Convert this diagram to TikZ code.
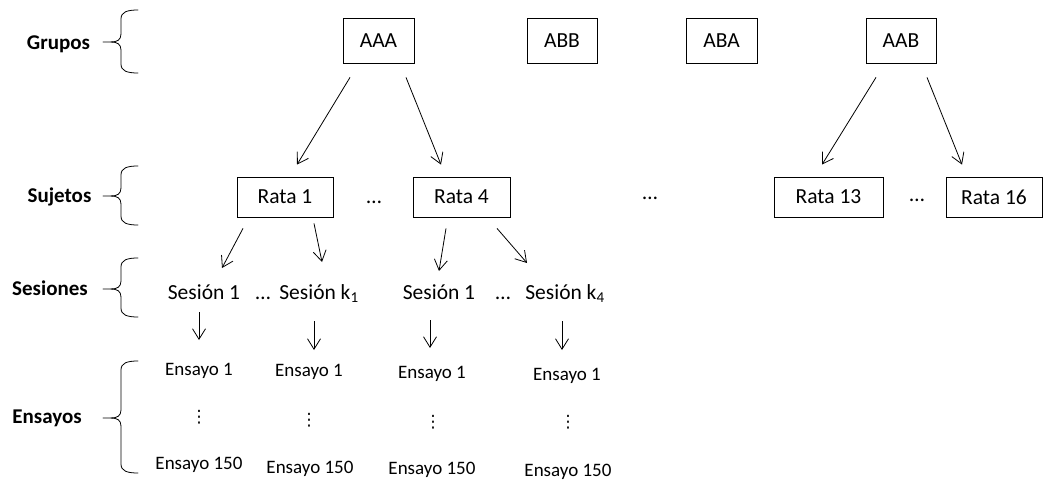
\documentclass[tikz,border=0pt]{standalone}
\usepackage{fontspec}
\setmainfont{Carlito}
\newfontfamily\dejavu{DejaVu Sans}
\usetikzlibrary{arrows.meta,calc}
\newcommand\mybrace[3]{%
  \draw[bracestyle] (138,#1) .. controls (127,#1) and (121,#1+2) .. (121,#1+9)
    -- (121,#2-8) .. controls (121,#2-2) and (117,#2) .. (111,#2) -- (103,#2);
  \draw[bracestyle] (111,#2) .. controls (117,#2) and (121,#2+2) .. (121,#2+8)
    -- (121,#3-9) .. controls (121,#3-2) and (127,#3) .. (138,#3);
}
\tikzset{
  box/.style={draw=black, line width=0.8pt, inner sep=0pt, font=\fontsize{21.5}{26}\selectfont},
  lbl/.style={anchor=base, inner sep=0pt, font=\fontsize{21}{25}\selectfont\bfseries},
  ses/.style={anchor=base, inner sep=0pt, font=\fontsize{21.5}{26}\selectfont},
  ens/.style={anchor=base, inner sep=0pt, font=\fontsize{19}{23}\selectfont},
  vd/.style={anchor=center, inner sep=0pt, font=\dejavu\fontsize{17}{20}\selectfont},
  arr/.style={line width=0.8pt, -{Straight Barb[length=10.5pt,width=13pt,line width=0.8pt]}},
  bracestyle/.style={line width=0.8pt, line cap=round},
}
\begin{document}
\begin{tikzpicture}[x=1pt,y=-1pt]
\useasboundingbox (0,0) rectangle (1043,481);
% level labels
\node[lbl] (lg)  at (58.5,49.5) {Grupos};
\node[lbl] (ls)  at (59.5,202) {Sujetos};
\node[lbl] (lse) at (50,295) {Sesiones};
\node[lbl] (le)  at (47,423) {Ensayos};
% braces
\mybrace{10}{42}{73}
\mybrace{166}{196}{225}
\mybrace{258}{289}{317}
\mybrace{361}{418}{473}
% groups
\node[box, minimum width=71pt, minimum height=45pt] (AAA) at (378.5,40.5) {AAA};
\node[box, minimum width=70pt, minimum height=45pt] (ABB) at (562,40.5) {ABB};
\node[box, minimum width=71pt, minimum height=45pt] (ABA) at (721.5,40.5) {ABA};
\node[box, minimum width=70pt, minimum height=45pt] (AAB) at (901,40.5) {AAB};
% subjects
\node[box, minimum width=96pt, minimum height=40pt] (R1)  at (285,197) {Rata 1};
\node[box, minimum width=97pt, minimum height=40pt] (R4)  at (461.5,197) {Rata 4};
\node[box, minimum width=109pt, minimum height=40pt] (R13) at (828.5,197) {Rata 13};
\node[box, minimum width=96pt, minimum height=40pt] (R16) at (994,197) {Rata 16};
\node[ses] (d1) at (374,203) {…};
\node[ses] (d2) at (650,199) {…};
\node[ses] (d3) at (917,201) {…};
% sessions
\node[ses] (S1a) at (204,299.5) {Sesión 1};
\node[ses] (d4)  at (263,299.5) {…};
\node[ses] (K1)  at (319,299.5) {Sesión k\textsubscript{1}};
\node[ses] (S1b) at (439,299.5) {Sesión 1};
\node[ses] (d5)  at (503,299.5) {…};
\node[ses] (K4)  at (565,299.5) {Sesión k\textsubscript{4}};
% trials
\node[ens] (E1a) at (199,375) {Ensayo 1};
\node[ens] (E1b) at (309,376) {Ensayo 1};
\node[ens] (E1c) at (432,378) {Ensayo 1};
\node[ens] (E1d) at (567,380) {Ensayo 1};
\node[vd] (Va) at (199,417) {⋮};
\node[vd] (Vb) at (309,420) {⋮};
\node[vd] (Vc) at (433,422) {⋮};
\node[vd] (Vd) at (568,422) {⋮};
\node[ens] (Fa) at (199,469) {Ensayo 150};
\node[ens] (Fb) at (310,473) {Ensayo 150};
\node[ens] (Fc) at (432,474) {Ensayo 150};
\node[ens] (Fd) at (568,476) {Ensayo 150};
% arrows groups -> subjects
\draw[arr] ($(AAA.south)+(-28.5,14)$) -- ($(R1.north)+(12,-12)$);
\draw[arr] ($(AAA.south)+(27.5,14)$) -- ($(R4.north)+(-20.5,-12)$);
\draw[arr] ($(AAB.south)+(-25,14)$) -- ($(R13.north)+(-6.5,-12)$);
\draw[arr] ($(AAB.south)+(26,14)$) -- ($(R16.north)+(-32,-12)$);
% subjects -> sessions
\draw[arr] ($(R1.south)+(-42,11)$) -- ($(S1a.base)+(18,-31.5)$);
\draw[arr] ($(R1.south)+(29,6)$) -- ($(K1.base)+(3,-37.5)$);
\draw[arr] ($(R4.south)+(-15.5,11)$) -- ($(S1b.base)+(0,-28.5)$);
\draw[arr] ($(R4.south)+(35.5,11)$) -- ($(K4.base)+(-38,-36.5)$);
% sessions -> trials
\draw[arr] ($(S1a.base)+(-5,12.5)$) -- ($(E1a.base)+(0,-35)$);
\draw[arr] ($(K1.base)+(-5,21.5)$) -- ($(E1b.base)+(5,-26)$);
\draw[arr] ($(S1b.base)+(-9,20.5)$) -- ($(E1c.base)+(-2,-30)$);
\draw[arr] ($(K4.base)+(-3,21.5)$) -- ($(E1d.base)+(-5,-30)$);
\end{tikzpicture}
\end{document}
